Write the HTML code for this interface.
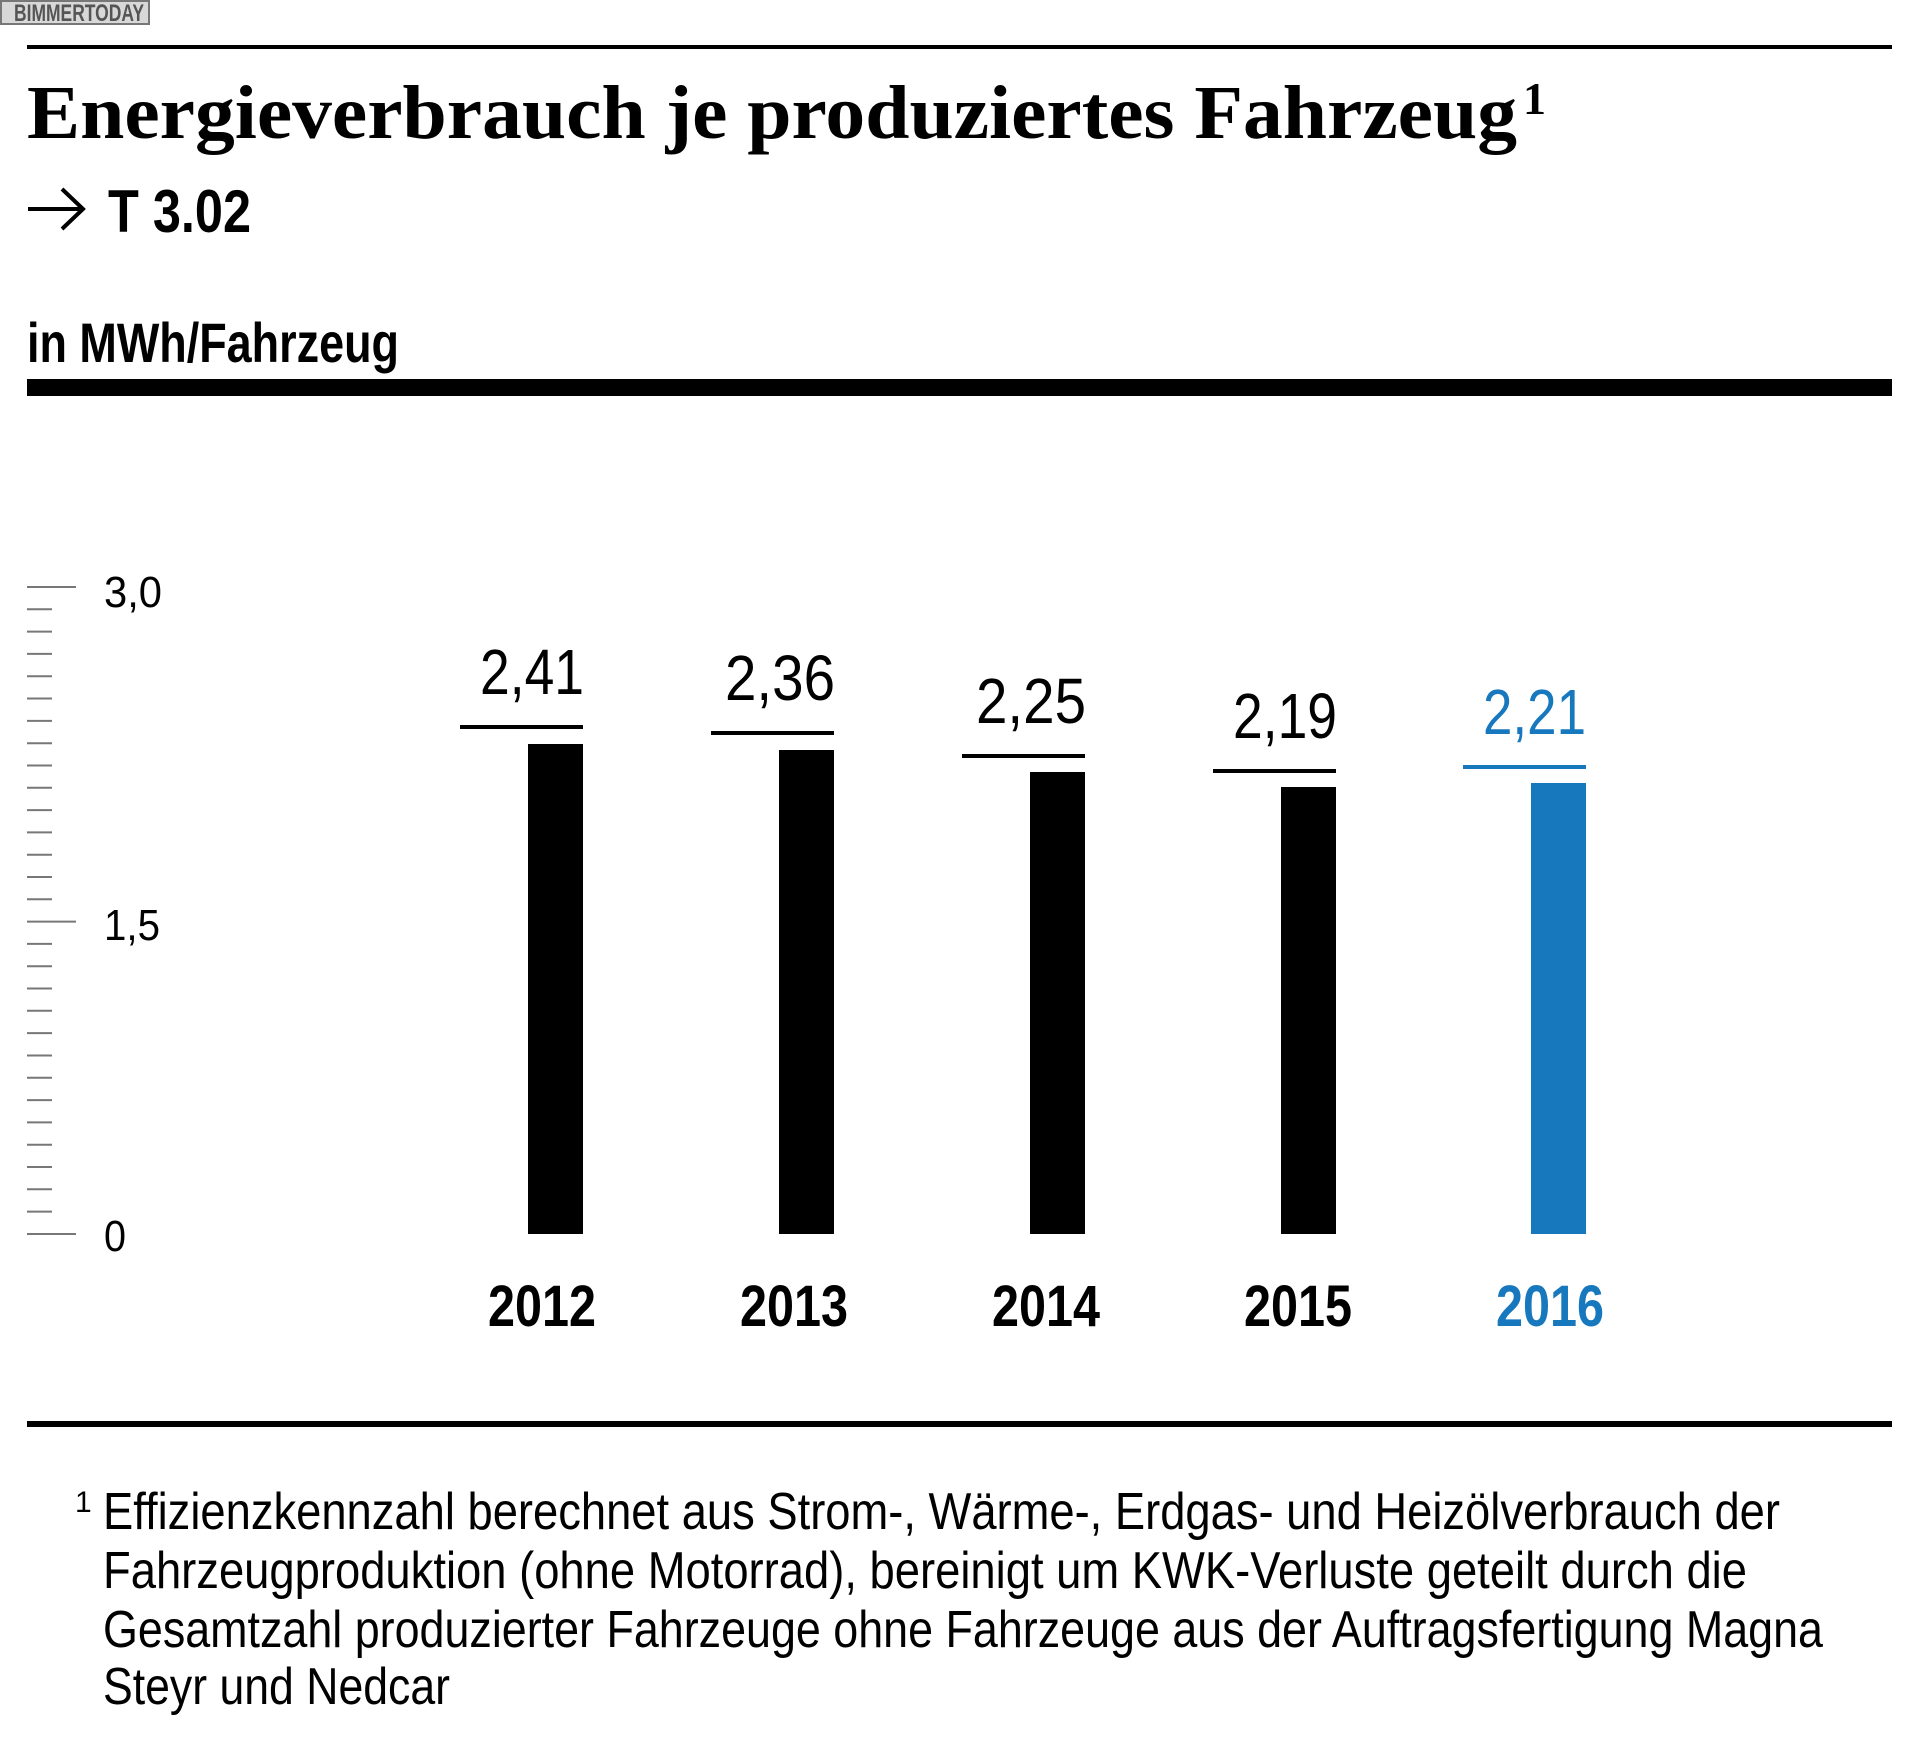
<!DOCTYPE html>
<html><head><meta charset="utf-8"><style>
html,body{margin:0;padding:0;background:#fff;}
svg{display:block}
.c{font-family:"Liberation Sans Narrow","Liberation Sans",sans-serif;}
</style></head><body>
<svg width="1920" height="1738" viewBox="0 0 1920 1738" xmlns="http://www.w3.org/2000/svg">
<rect x="1" y="1" width="148" height="23" fill="#d8d8d8" stroke="#777" stroke-width="2"/>
<text x="14" y="21" class="c" font-size="24" font-weight="bold" fill="#555" textLength="130" lengthAdjust="spacingAndGlyphs">BIMMERTODAY</text>
<rect x="27" y="45" width="1865" height="4" fill="#000"/>
<text x="27" y="138" font-family="Liberation Serif,serif" font-weight="bold" font-size="76" textLength="1490" lengthAdjust="spacingAndGlyphs">Energieverbrauch je produziertes Fahrzeug</text>
<text x="1523" y="114" font-family="Liberation Serif,serif" font-weight="bold" font-size="46">1</text>
<path d="M28 209 H82 M62 189 L83 209 L62 229" stroke="#000" stroke-width="4" fill="none"/>
<text x="108" y="232" class="c" font-weight="bold" font-size="60" textLength="143" lengthAdjust="spacingAndGlyphs">T 3.02</text>
<text x="27" y="362" class="c" font-weight="bold" font-size="56" textLength="372" lengthAdjust="spacingAndGlyphs">in MWh/Fahrzeug</text>
<rect x="27" y="379" width="1865" height="17" fill="#000"/>
<g stroke="#777" stroke-width="2">
<line x1="27" y1="587" x2="76" y2="587"/><line x1="27" y1="921.6" x2="76" y2="921.6"/><line x1="27" y1="1234" x2="76" y2="1234"/>
<line x1="27" y1="609.3" x2="52" y2="609.3"/><line x1="27" y1="631.6" x2="52" y2="631.6"/><line x1="27" y1="653.9" x2="52" y2="653.9"/><line x1="27" y1="676.2" x2="52" y2="676.2"/><line x1="27" y1="698.5" x2="52" y2="698.5"/><line x1="27" y1="720.9" x2="52" y2="720.9"/><line x1="27" y1="743.2" x2="52" y2="743.2"/><line x1="27" y1="765.5" x2="52" y2="765.5"/><line x1="27" y1="787.8" x2="52" y2="787.8"/><line x1="27" y1="810.1" x2="52" y2="810.1"/><line x1="27" y1="832.4" x2="52" y2="832.4"/><line x1="27" y1="854.7" x2="52" y2="854.7"/><line x1="27" y1="877" x2="52" y2="877"/><line x1="27" y1="899.3" x2="52" y2="899.3"/>
<line x1="27" y1="943.9" x2="52" y2="943.9"/><line x1="27" y1="966.2" x2="52" y2="966.2"/><line x1="27" y1="988.5" x2="52" y2="988.5"/><line x1="27" y1="1010.8" x2="52" y2="1010.8"/><line x1="27" y1="1033.1" x2="52" y2="1033.1"/><line x1="27" y1="1055.5" x2="52" y2="1055.5"/><line x1="27" y1="1077.8" x2="52" y2="1077.8"/><line x1="27" y1="1100.1" x2="52" y2="1100.1"/><line x1="27" y1="1122.4" x2="52" y2="1122.4"/><line x1="27" y1="1144.7" x2="52" y2="1144.7"/><line x1="27" y1="1167" x2="52" y2="1167"/><line x1="27" y1="1189.3" x2="52" y2="1189.3"/><line x1="27" y1="1211.6" x2="52" y2="1211.6"/>
</g>
<g class="c" font-size="44">
<text x="104" y="607" textLength="58" lengthAdjust="spacingAndGlyphs">3,0</text>
<text x="104" y="940" textLength="56" lengthAdjust="spacingAndGlyphs">1,5</text>
<text x="104" y="1251" textLength="22" lengthAdjust="spacingAndGlyphs">0</text>
</g>
<g fill="#000">
<rect x="528" y="744" width="55" height="490"/><rect x="460" y="725" width="123" height="4"/>
<rect x="779" y="750" width="55" height="484"/><rect x="711" y="731" width="123" height="4"/>
<rect x="1030" y="772" width="55" height="462"/><rect x="962" y="754" width="123" height="4"/>
<rect x="1281" y="787" width="55" height="447"/><rect x="1213" y="769" width="123" height="4"/>
</g>
<g fill="#1878bd"><rect x="1531" y="783" width="55" height="451"/><rect x="1463" y="765" width="123" height="4"/></g>
<g class="c" font-size="64" text-anchor="end">
<text x="584" y="694" textLength="104" lengthAdjust="spacingAndGlyphs">2,41</text>
<text x="835" y="700" textLength="110" lengthAdjust="spacingAndGlyphs">2,36</text>
<text x="1086" y="723" textLength="110" lengthAdjust="spacingAndGlyphs">2,25</text>
<text x="1337" y="738" textLength="104" lengthAdjust="spacingAndGlyphs">2,19</text>
<text x="1586" y="734" fill="#1878bd" textLength="103" lengthAdjust="spacingAndGlyphs">2,21</text>
</g>
<g class="c" font-size="58" font-weight="bold" text-anchor="middle">
<text x="542" y="1326" textLength="108" lengthAdjust="spacingAndGlyphs">2012</text>
<text x="794" y="1326" textLength="108" lengthAdjust="spacingAndGlyphs">2013</text>
<text x="1046" y="1326" textLength="108" lengthAdjust="spacingAndGlyphs">2014</text>
<text x="1298" y="1326" textLength="108" lengthAdjust="spacingAndGlyphs">2015</text>
<text x="1550" y="1326" fill="#1878bd" textLength="108" lengthAdjust="spacingAndGlyphs">2016</text>
</g>
<rect x="27" y="1421" width="1865" height="6" fill="#000"/>
<g class="c" font-size="52">
<text x="75" y="1512" font-size="30">1</text>
<text x="103" y="1529" textLength="1677" lengthAdjust="spacingAndGlyphs">Effizienzkennzahl berechnet aus Strom-, Wärme-, Erdgas- und Heizölverbrauch der</text>
<text x="103" y="1588" textLength="1644" lengthAdjust="spacingAndGlyphs">Fahrzeugproduktion (ohne Motorrad), bereinigt um KWK-Verluste geteilt durch die</text>
<text x="103" y="1647" textLength="1720" lengthAdjust="spacingAndGlyphs">Gesamtzahl produzierter Fahrzeuge ohne Fahrzeuge aus der Auftragsfertigung Magna</text>
<text x="103" y="1704" textLength="347" lengthAdjust="spacingAndGlyphs">Steyr und Nedcar</text>
</g>
</svg>
</body></html>
